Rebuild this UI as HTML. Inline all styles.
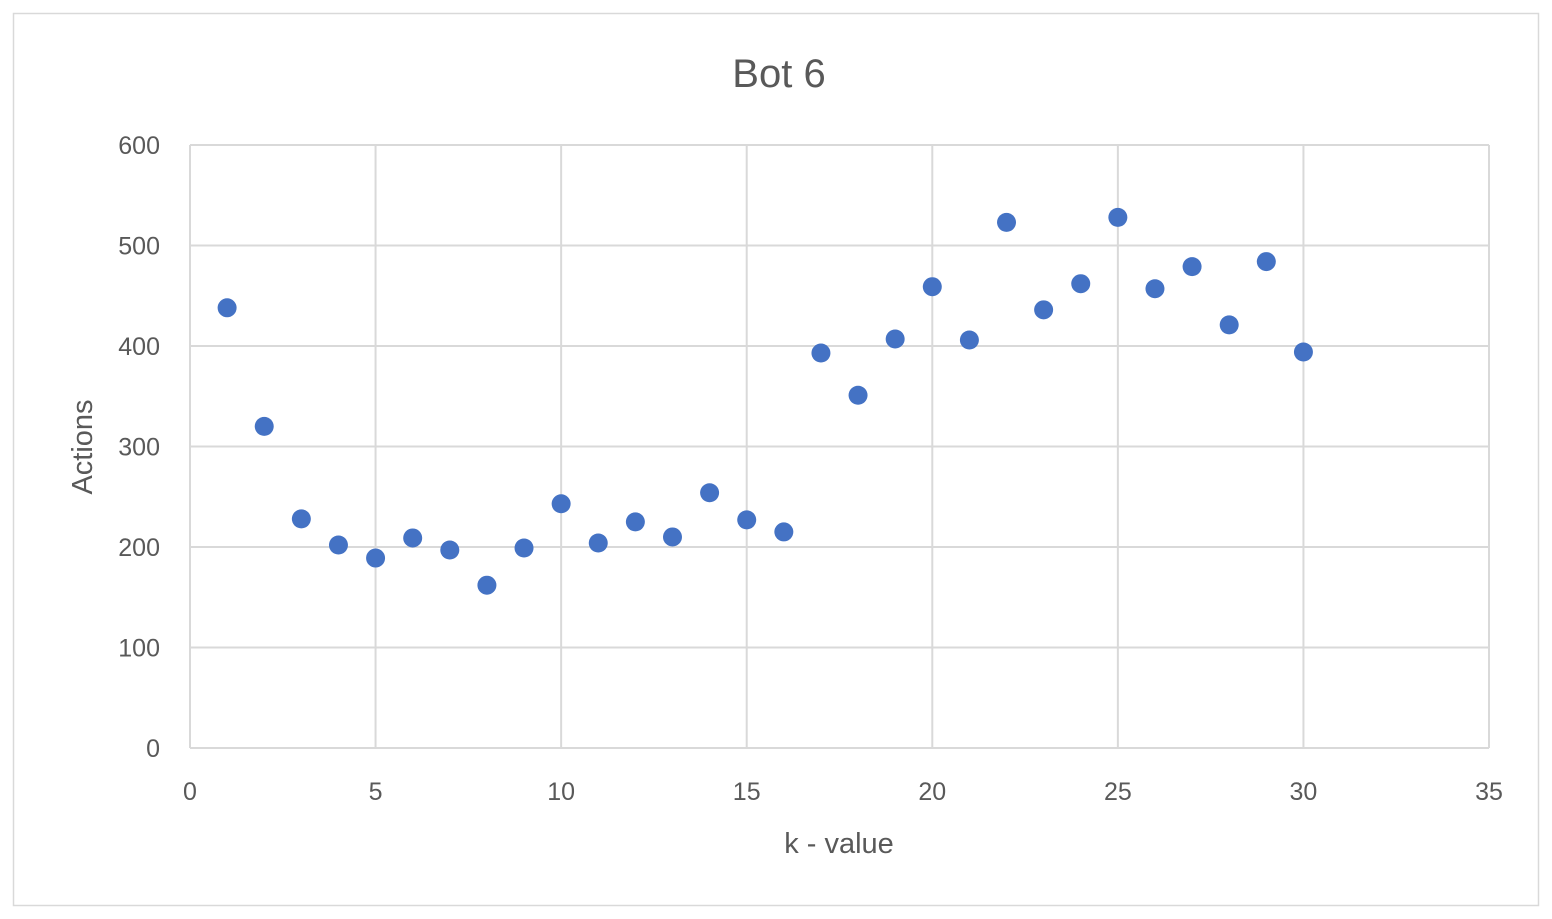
<!DOCTYPE html>
<html><head><meta charset="utf-8"><style>
html,body{margin:0;padding:0;background:#fff;}
svg text{font-family:"Liberation Sans",sans-serif;fill:#595959;}
</style></head><body>
<svg width="1552" height="914" xmlns="http://www.w3.org/2000/svg">
<rect x="13.5" y="13.5" width="1525" height="892" fill="#fff" stroke="#d9d9d9" stroke-width="1.5"/>
<text x="779" y="87" font-size="40" text-anchor="middle">Bot 6</text>
<g id="grid"></g>
<g id="pts"></g>
<text x="839" y="853" font-size="29" text-anchor="middle">k - value</text>
<text transform="translate(92,447) rotate(-90)" font-size="29" text-anchor="middle">Actions</text>
</svg>
<script>
const xVals=[1,2,3,4,5,6,7,8,9,10,11,12,13,14,15,16,17,18,19,20,21,22,23,24,25,26,27,28,29,30];
const yVals=[438,320,228,202,189,209,197,162,199,243,204,225,210,254,227,215,393,351,407,459,406,523,436,462,528,457,479,421,484,394];
const xTicks=[0,5,10,15,20,25,30,35];
const yTicks=[0,100,200,300,400,500,600];
const NS='http://www.w3.org/2000/svg';
const X0=190,X1=1489,Y0=748,Y1=145;
const sx=v=>X0+(v-0)/(35-0)*(X1-X0);
const sy=v=>Y0-(v-0)/(600-0)*(Y0-Y1);
const g=document.getElementById('grid'),p=document.getElementById('pts');
function mk(t,a,par){const e=document.createElementNS(NS,t);for(const k in a)e.setAttribute(k,a[k]);par.appendChild(e);return e;}
xTicks.forEach(t=>{
  const l=mk('line',{x1:sx(t),x2:sx(t),y1:Y1,y2:Y0,stroke:'#d9d9d9','stroke-width':2},g);
  
  
  const tx=mk('text',{x:sx(t),y:800,'font-size':25,'text-anchor':'middle'},g);tx.textContent=t;
  
  
});
yTicks.forEach(t=>{
  const l=mk('line',{x1:X0,x2:X1,y1:sy(t),y2:sy(t),stroke:'#d9d9d9','stroke-width':2},g);
  
  
  const tx=mk('text',{x:160,y:sy(t)+9,'font-size':25,'text-anchor':'end'},g);tx.textContent=t;
  
  
});
xVals.forEach((x,i)=>{
  const c=mk('circle',{cx:sx(x),cy:sy(yVals[i]),r:9.5,fill:'#4472c4'},p);
  
  
});
</script>
</body></html>
